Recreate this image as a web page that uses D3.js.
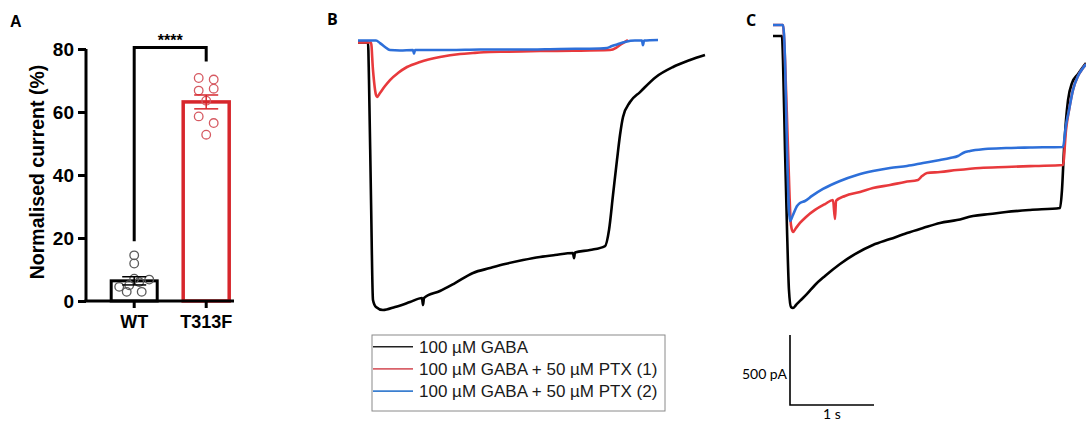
<!DOCTYPE html>
<html><head><meta charset="utf-8">
<script src="https://cdn.jsdelivr.net/npm/d3@7/dist/d3.min.js"></script>
<style>body{margin:0;background:#fff}svg{display:block}</style>
</head><body><svg id="c" width="1086" height="421"></svg>
<script>
// ---------- Panel A data ----------
const aCategories = ["WT", "T313F"];
const aMeans = [6.4, 63.2];
const aSem = [1.3, 2.2];
const wtPoints = [14.5, 11.9, 4.5, 2.9, 5.0, 2.9, 6.0, 7.1, 6.8];
const t313fPoints = [70.8, 70.3, 66.8, 67.4, 63.6, 58.6, 56.5, 52.8];
const aTicks = [0, 20, 40, 60, 80];
const aYLabel = "Normalised current (%)";
const sigLabel = "****";
const bracketLegEnds = [19, 76];
const bracketTop = 80.5;

// ---------- Panel B traces [time s, current pA] ----------
const bBlack = [[0,0],[0.143,0],[0.157,-268],[0.186,-1125],[0.214,-1839],[0.257,-1889],[0.357,-1911],[0.529,-1889],[0.743,-1854],[0.914,-1825],[0.929,-1875],[0.943,-1825],[1.171,-1775],[1.386,-1718],[1.643,-1646],[1.886,-1611],[2.1,-1582],[2.357,-1554],[2.6,-1532],[2.814,-1518],[3.071,-1504],[3.086,-1540],[3.1,-1500],[3.314,-1482],[3.529,-1454],[3.586,-1339],[3.643,-1089],[3.7,-839],[3.743,-661],[3.786,-532],[3.886,-425],[4.029,-354],[4.257,-246],[4.5,-175],[4.743,-125],[4.957,-89]];
const bRed = [[0,0],[0.186,0],[0.214,-196],[0.257,-375],[0.271,-389],[0.314,-361],[0.386,-311],[0.457,-268],[0.571,-218],[0.7,-175],[0.886,-139],[1.171,-104],[1.457,-82],[1.643,-75],[1.886,-68],[2.129,-66],[2.6,-61],[3.071,-59],[3.6,-54],[3.686,-39],[3.743,-18],[3.814,4],[3.857,18]];
const bBlue = [[0,14],[0.257,14],[0.314,-4],[0.386,-32],[0.457,-54],[0.6,-57],[0.786,-54],[0.8,-80],[0.814,-54],[1.314,-54],[1.743,-50],[2.314,-50],[2.886,-46],[3.457,-43],[3.557,-39],[3.629,-25],[3.7,-14],[3.814,4],[3.957,14],[4.057,14],[4.071,-20],[4.086,14],[4.286,18]];

// ---------- Panel C traces [time s, current pA] ----------
const cBlack = [[0,-79],[0.107,-79],[0.119,-250],[0.143,-893],[0.167,-1464],[0.19,-1893],[0.214,-2014],[0.238,-2021],[0.274,-2000],[0.321,-1971],[0.405,-1921],[0.5,-1857],[0.619,-1793],[0.798,-1707],[0.976,-1636],[1.19,-1571],[1.393,-1529],[1.595,-1486],[1.786,-1450],[1.988,-1414],[2.19,-1393],[2.381,-1364],[2.583,-1350],[2.774,-1336],[3.06,-1321],[3.417,-1307],[3.44,-1179],[3.464,-893],[3.488,-679],[3.512,-536],[3.56,-414],[3.631,-350],[3.69,-300],[3.726,-271]];
const cRed = [[0,0],[0.119,0],[0.143,-250],[0.179,-893],[0.214,-1429],[0.238,-1479],[0.274,-1450],[0.321,-1414],[0.393,-1371],[0.5,-1321],[0.619,-1279],[0.714,-1250],[0.738,-1386],[0.75,-1257],[0.857,-1221],[1.036,-1193],[1.19,-1164],[1.393,-1143],[1.571,-1121],[1.726,-1107],[1.774,-1079],[1.833,-1057],[1.988,-1050],[2.19,-1036],[2.464,-1021],[2.774,-1014],[3.119,-1007],[3.452,-1000],[3.488,-750],[3.524,-607],[3.571,-464],[3.631,-364],[3.69,-307],[3.726,-279]];
const cBlue = [[0,0],[0.119,0],[0.143,-250],[0.167,-893],[0.19,-1321],[0.202,-1400],[0.238,-1357],[0.286,-1293],[0.321,-1271],[0.381,-1257],[0.464,-1221],[0.595,-1171],[0.798,-1114],[1.0,-1071],[1.19,-1043],[1.393,-1021],[1.595,-1007],[1.786,-986],[1.988,-964],[2.107,-950],[2.202,-936],[2.262,-914],[2.345,-900],[2.524,-886],[2.774,-879],[3.06,-875],[3.452,-871],[3.488,-714],[3.524,-607],[3.571,-464],[3.631,-364],[3.69,-307],[3.726,-279]];

const legendLabels = ["100 µM GABA", "100 µM GABA + 50 µM PTX (1)", "100 µM GABA + 50 µM PTX (2)"];
const traceColors = ["#000000", "#e8393c", "#2d6fd9"];
const legendColors = ["#222222", "#d9626a", "#3b7fd0"];
const scaleBarValues = {current: 500, time: 1};
const scaleBarLabels = ["500 pA", "1 s"];
const panelLetters = ["A", "B", "C"];

// ---------- drawing ----------
const svg = d3.select("#c");
svg.append("rect").attr("width",1086).attr("height",421).attr("fill","#fff");
const arial = "'Liberation Sans', Arial, sans-serif";

// Panel letters
svg.append("text").attr("x",10).attr("y",27).text(panelLetters[0])
  .attr("font-family",arial).attr("font-weight","bold").attr("font-size",16);
svg.append("text").attr("x",327).attr("y",25).text(panelLetters[1])
  .attr("font-family","'Open Sans', sans-serif").attr("font-weight","bold").attr("font-size",16);
svg.append("text").attr("x",746).attr("y",26).text(panelLetters[2])
  .attr("font-family","'Open Sans', sans-serif").attr("font-weight","bold").attr("font-size",16);

// ===== Panel A =====
const yA = d3.scaleLinear().domain([0,80]).range([301,49]);
const xA = d3.scaleBand().domain(aCategories).range([86,254.4]).paddingInner(0.361).paddingOuter(0.35);
const gA = svg.append("g");
const barColors = ["#000000", "#d7262c"];
const ptColors = ["#5a5a5a", "#d65a62"];

aCategories.forEach((c,i)=>{
  gA.append("rect").attr("x",xA(c)).attr("y",yA(aMeans[i]))
    .attr("width",xA.bandwidth()).attr("height",yA(0)-yA(aMeans[i]))
    .attr("fill","#fff").attr("stroke",barColors[i]).attr("stroke-width",i===0?3:3.5);
});

function swarm(vals, center){
  const bin = 3.5, step = 15;
  const rows = d3.group(vals.map((v,k)=>({v,k})), d=>Math.floor(d.v/bin));
  const out = [];
  rows.forEach(arr=>{
    const n = arr.length;
    arr.sort((a,b)=>a.k-b.k).forEach((d,j)=>{
      out.push({v:d.v, x:center + (j-(n-1)/2)*(n>2?10:step)});
    });
  });
  return out;
}
[wtPoints, t313fPoints].forEach((pts,i)=>{
  const c = aCategories[i];
  const cx = xA(c)+xA.bandwidth()/2;
  gA.selectAll(null).data(swarm(pts,cx)).enter().append("circle")
    .attr("cx",d=>d.x).attr("cy",d=>yA(d.v)).attr("r",4.3)
    .attr("fill","none").attr("stroke",ptColors[i]).attr("stroke-width",1.3);
  const g = gA.append("g").attr("stroke",barColors[i]).attr("stroke-width",1.5);
  g.append("line").attr("x1",cx).attr("x2",cx).attr("y1",yA(aMeans[i]-aSem[i])).attr("y2",yA(aMeans[i]+aSem[i]));
  [aMeans[i]-aSem[i], aMeans[i]+aSem[i]].forEach(v=>{
    g.append("line").attr("x1",cx-12).attr("x2",cx+12).attr("y1",yA(v)).attr("y2",yA(v));
  });
});

const yAxis = d3.axisLeft(yA).tickValues(aTicks).tickSize(8).tickPadding(4);
const gy = gA.append("g").attr("transform","translate(86,0)").call(yAxis);
gy.select(".domain").attr("stroke","#000").attr("stroke-width",3).attr("d",`M0,${yA(80)}V${yA(0)}`);
gy.selectAll(".tick line").attr("stroke-width",3);
gy.selectAll("text").attr("font-family",arial).attr("font-weight","bold").attr("font-size",19).attr("fill","#000");
gA.append("line").attr("x1",84.5).attr("x2",234).attr("y1",yA(0)).attr("y2",yA(0))
  .attr("stroke","#000").attr("stroke-width",3);
aCategories.forEach(c=>{
  const cx = xA(c)+xA.bandwidth()/2;
  gA.append("line").attr("x1",cx).attr("x2",cx).attr("y1",yA(0)).attr("y2",yA(0)+7)
    .attr("stroke","#000").attr("stroke-width",3);
  gA.append("text").attr("x",cx).attr("y",yA(0)+27).attr("text-anchor","middle").text(c)
    .attr("font-family",arial).attr("font-weight","bold").attr("font-size",18);
});
gA.append("text").attr("transform",`translate(44,${(yA(0)+yA(80))/2 - 3}) rotate(-90)`)
  .attr("text-anchor","middle").text(aYLabel)
  .attr("font-family",arial).attr("font-weight","bold").attr("font-size",19.5);

const bx1 = xA(aCategories[0])+xA.bandwidth()/2, bx2 = xA(aCategories[1])+xA.bandwidth()/2;
gA.append("path").attr("d",`M${bx1},${yA(bracketLegEnds[0])}V${yA(bracketTop)}H${bx2}V${yA(bracketLegEnds[1])}`)
  .attr("fill","none").attr("stroke","#000").attr("stroke-width",3);
gA.append("text").attr("x",(bx1+bx2)/2).attr("y",yA(bracketTop)-1).attr("text-anchor","middle")
  .text(sigLabel).attr("font-family",arial).attr("font-weight","bold").attr("font-size",16);

// ===== Panel B =====
const xB = d3.scaleLinear().domain([0,5]).range([358,708]);
const yB = d3.scaleLinear().domain([0,-2100]).range([42.5,336.5]);
const lineB = d3.line().x(d=>xB(d[0])).y(d=>yB(d[1])).curve(d3.curveMonotoneX);
[bBlack,bRed,bBlue].forEach((tr,i)=>{
  svg.append("path").attr("d",lineB(tr)).attr("fill","none")
    .attr("stroke",traceColors[i]).attr("stroke-width",2.6).attr("stroke-linejoin","round");
});

const lg = svg.append("g");
lg.append("rect").attr("x",372).attr("y",335).attr("width",293).attr("height",76)
  .attr("fill","#fff").attr("stroke","#8a8a8a").attr("stroke-width",1);
legendLabels.forEach((l,i)=>{
  const y = 346.7 + i*22.2;
  lg.append("line").attr("x1",373).attr("x2",413).attr("y1",y).attr("y2",y)
    .attr("stroke",legendColors[i]).attr("stroke-width",1.6);
  lg.append("text").attr("x",419).attr("y",y+6).text(l)
    .attr("font-family",arial).attr("font-size",17).attr("fill","#1a1a1a");
});

// ===== Panel C =====
const xC = d3.scaleLinear().domain([0,3.726]).range([773,1086]);
const yC = d3.scaleLinear().domain([0,-2100]).range([25,319]);
const lineC = d3.line().x(d=>xC(d[0])).y(d=>yC(d[1])).curve(d3.curveMonotoneX);
[cBlack,cRed,cBlue].forEach((tr,i)=>{
  svg.append("path").attr("d",lineC(tr)).attr("fill","none")
    .attr("stroke",traceColors[i]).attr("stroke-width",2.6).attr("stroke-linejoin","round");
});

const sbX = 790, sbY = 405;
const vLen = yC(-scaleBarValues.current) - yC(0);
const hLen = xC(scaleBarValues.time) - xC(0);
svg.append("path").attr("d",`M${sbX},${sbY-vLen}V${sbY}H${sbX+hLen}`)
  .attr("fill","none").attr("stroke","#000").attr("stroke-width",1.6);
svg.append("text").attr("x",sbX-3).attr("y",sbY-vLen/2+9).attr("text-anchor","end")
  .text(scaleBarLabels[0]).attr("font-family","Lato, 'Open Sans', sans-serif").attr("font-size",14);
svg.append("text").attr("x",sbX+hLen/2).attr("y",sbY+14).attr("text-anchor","middle")
  .text(scaleBarLabels[1]).attr("font-family","Lato, 'Open Sans', sans-serif").attr("font-size",14);
</script></body></html>
